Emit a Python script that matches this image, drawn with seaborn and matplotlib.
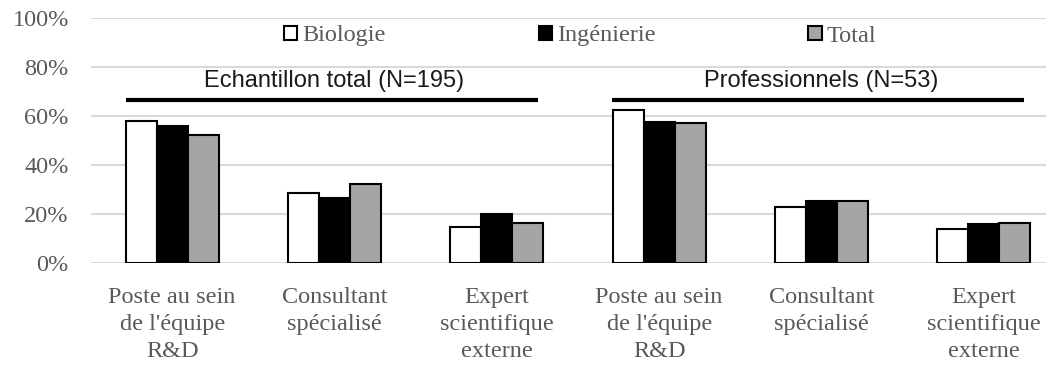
import matplotlib
matplotlib.use("Agg")
import matplotlib.pyplot as plt
import seaborn as sns
import pandas as pd

# Categories (roles) repeated for the two samples
roles = ["Poste au sein\nde l'équipe\nR&D", "Consultant\nspécialisé", "Expert\nscientifique\nexterne"]
samples = ["Echantillon total (N=195)", "Professionnels (N=53)"]
series = ["Biologie", "Ingénierie", "Total"]

# Shares (%) per role, first sample then second sample
biologie = [58.1, 28.6, 14.8, 62.4, 22.7, 14.0]
ingenierie = [55.8, 26.4, 20.1, 57.4, 25.3, 15.8]
total = [52.2, 32.1, 16.5, 57.3, 25.3, 16.5]

keys = [f"{s}|{r}" for s in samples for r in roles]
df = pd.DataFrame({
    "poste": keys * 3,
    "discipline": [series[0]] * 6 + [series[1]] * 6 + [series[2]] * 6,
    "part": biologie + ingenierie + total,
})

sns.set_theme(style="white")
serif = "Liberation Serif"
sans = "Liberation Sans"
grey_txt = "#595959"

fig = plt.figure(figsize=(10.46, 3.70), dpi=100)
W, H = 1046, 370
left_px, right_px = 91, 1065
bottom_px, top_px = 263, 18
ax = fig.add_axes([left_px / W, (H - bottom_px) / H,
                   (right_px - left_px) / W, (bottom_px - top_px) / H])

sns.barplot(data=df, x="poste", y="part", hue="discipline", order=keys,
            hue_order=series, palette=["white", "black", "#a5a5a5"],
            edgecolor="black", linewidth=1.5, width=0.573, gap=0,
            errorbar=None, ax=ax)

ax.set_xlim(-0.5, 5.5)
ax.set_ylim(0, 100)
ax.set_yticks(range(0, 101, 20))
ax.set_yticklabels([f"{v}%" for v in range(0, 101, 20)])
ax.set_xticks(range(6))
ax.set_xticklabels(roles * 2)
ax.set_xlabel("")
ax.set_ylabel("")

for lab in ax.get_yticklabels():
    lab.set_fontfamily(serif)
    lab.set_fontsize(17.5)
    lab.set_color(grey_txt)
for lab in ax.get_xticklabels():
    lab.set_fontfamily(serif)
    lab.set_fontsize(17.5)
    lab.set_color(grey_txt)
    lab.set_linespacing(1.38)
ax.tick_params(axis="y", length=0, pad=16)
ax.tick_params(axis="x", length=0, pad=17)

ax.yaxis.grid(True, color="#d9d9d9", linewidth=1.5)
ax.xaxis.grid(False)
ax.set_axisbelow(True)
sns.despine(ax=ax, left=True, bottom=True)

# Sample headers with their underline
header_y = 74.4
line_y = 66.5
spans = [(-0.284, 2.254), (2.71, 5.25)]
for (x0, x1), name, cx in zip(spans, samples, [1.0, 4.0]):
    ax.plot([x0, x1], [line_y, line_y], color="black", linewidth=3.0,
            solid_capstyle="butt", clip_on=False, zorder=5)
    ax.text(cx, header_y, name, ha="center", va="center", fontsize=17,
            family=sans, color="#1a1a1a", zorder=5)

handles, labels = ax.get_legend_handles_labels()
ax.legend(handles, labels, loc="center", ncol=3, frameon=False,
          bbox_to_anchor=(580 / W, 1 - 36 / H), bbox_transform=fig.transFigure,
          prop={"family": serif, "size": 17.5}, labelcolor=grey_txt,
          handlelength=0.55, handleheight=0.55, handletextpad=0.2,
          columnspacing=6.3, borderpad=0)

fig.savefig("out.png", dpi=100)
